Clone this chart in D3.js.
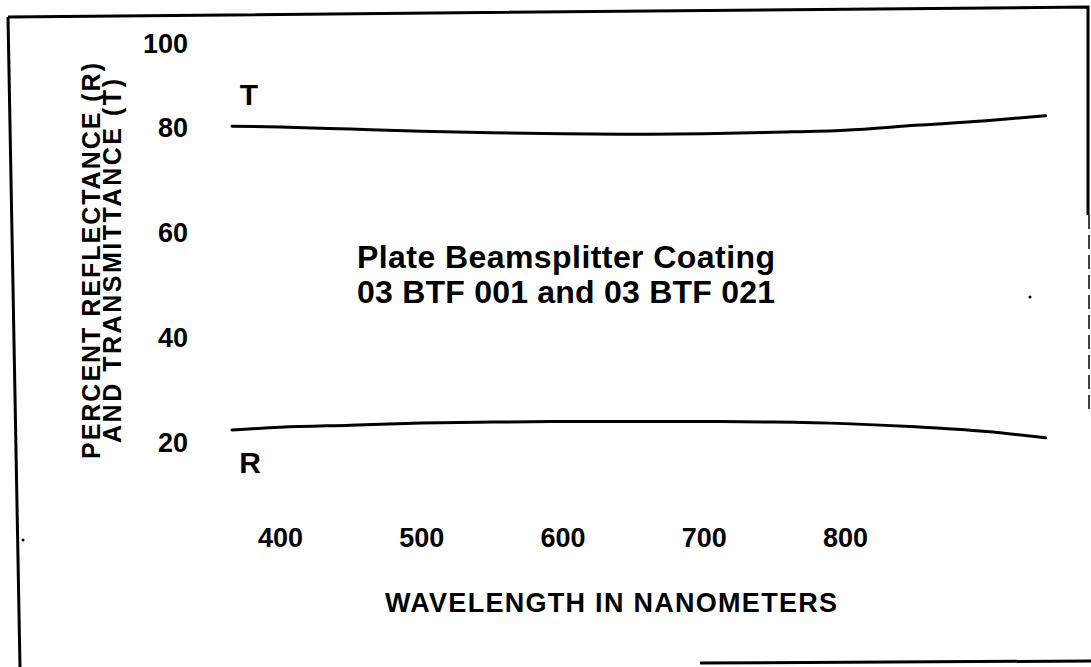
<!DOCTYPE html>
<html>
<head>
<meta charset="utf-8">
<script src="https://cdn.jsdelivr.net/npm/d3@7"></script>
<style>
  html, body { margin: 0; padding: 0; background: #fff; }
  svg text { font-family: "Liberation Sans", Arial, Helvetica, sans-serif; font-weight: bold; fill: #000; }
</style>
</head>
<body>
<svg id="chart" width="1091" height="667"></svg>
<script>
// Wavelength samples (nm) and measured curves (%)
const wavelengths   = [366, 400, 450, 500, 550, 600, 650, 700, 750, 800, 850, 900, 942];
const transmittance = [80.2, 80.0, 79.6, 79.2, 78.9, 78.7, 78.6, 78.7, 79.0, 79.4, 80.4, 81.5, 82.7];
const reflectance   = [22.3, 22.8, 23.2, 23.6, 23.8, 23.9, 23.9, 23.9, 23.8, 23.5, 22.9, 22.0, 20.8];

const xTicks = [400, 500, 600, 700, 800];
const yTicks = [20, 40, 60, 80, 100];

const titleLines = ["Plate Beamsplitter Coating", "03 BTF 001 and 03 BTF 021"];
const xTitle = "WAVELENGTH IN NANOMETERS";
const yTitleLines = ["PERCENT REFLECTANCE (R)", "AND TRANSMITTANCE (T)"];

const svg = d3.select("#chart");

// Outer frame of the figure
const frame = d3.line();
svg.append("path")
  .attr("d", frame([[8, 17], [1088, 7], [1088, 215]]))
  .attr("fill", "none").attr("stroke", "#000").attr("stroke-width", 3);
svg.append("path")
  .attr("d", frame([[1089, 215], [1089, 410]]))
  .attr("fill", "none").attr("stroke", "#000").attr("stroke-width", 1.5)
  .attr("stroke-dasharray", "14 6");
svg.append("path")
  .attr("d", frame([[8, 17], [20, 667]]))
  .attr("fill", "none").attr("stroke", "#000").attr("stroke-width", 3);
svg.append("path")
  .attr("d", frame([[700, 663], [1091, 661]]))
  .attr("fill", "none").attr("stroke", "#000").attr("stroke-width", 3);

// Scales
const x = d3.scaleLinear().domain([400, 800]).range([280, 845]);
const y = d3.scaleLinear().domain([20, 80, 100]).range([442, 127, 43]);

// Y axis: tick labels only
const yAxis = svg.append("g")
  .attr("transform", "translate(188,0)")
  .call(d3.axisLeft(y).tickValues(yTicks).tickSize(0).tickPadding(0).tickFormat(d3.format("d")));
yAxis.select(".domain").remove();
yAxis.selectAll("text")
  .attr("font-size", 27).attr("font-family", null).attr("dy", "0.36em");

// X axis: tick labels only
const xAxis = svg.append("g")
  .attr("transform", "translate(0,547)")
  .call(d3.axisBottom(x).tickValues(xTicks).tickSize(0).tickPadding(0).tickFormat(d3.format("d")));
xAxis.select(".domain").remove();
xAxis.selectAll("text")
  .attr("font-size", 27).attr("font-family", null).attr("y", 0).attr("dy", 0);

// Curves
const curve = d3.line()
  .x((d, i) => x(wavelengths[i]))
  .y(d => y(d))
  .curve(d3.curveMonotoneX);

svg.append("path")
  .datum(transmittance)
  .attr("d", curve)
  .attr("fill", "none").attr("stroke", "#000").attr("stroke-width", 3)
  .attr("stroke-linecap", "round");

svg.append("path")
  .datum(reflectance)
  .attr("d", curve)
  .attr("fill", "none").attr("stroke", "#000").attr("stroke-width", 3)
  .attr("stroke-linecap", "round");

// Curve labels
svg.append("text").attr("x", 249).attr("y", 105)
  .attr("text-anchor", "middle").attr("font-size", 30).text("T");
svg.append("text").attr("x", 250).attr("y", 473)
  .attr("text-anchor", "middle").attr("font-size", 30).text("R");

// Title block
svg.append("g").selectAll("text")
  .data(titleLines)
  .join("text")
  .attr("x", 357)
  .attr("y", (d, i) => 268 + i * 35)
  .attr("font-size", 32)
  .attr("textLength", 418).attr("lengthAdjust", "spacing")
  .text(d => d);

// Axis titles
svg.append("text")
  .attr("x", 611).attr("y", 612)
  .attr("text-anchor", "middle").attr("font-size", 27)
  .attr("textLength", 452).attr("lengthAdjust", "spacing")
  .text(xTitle);

svg.append("g").selectAll("text")
  .data(yTitleLines)
  .join("text")
  .attr("transform", (d, i) => `translate(${100 + i * 21},261) rotate(-90)`)
  .attr("text-anchor", "middle").attr("font-size", 25)
  .attr("textLength", (d, i) => i === 0 ? 396 : 364).attr("lengthAdjust", "spacing")
  .text(d => d);

// Stray specks on the sheet
svg.append("circle").attr("cx", 23).attr("cy", 540).attr("r", 1.5).attr("fill", "#000");
svg.append("circle").attr("cx", 1030).attr("cy", 297).attr("r", 1.5).attr("fill", "#000");
</script>
</body>
</html>
